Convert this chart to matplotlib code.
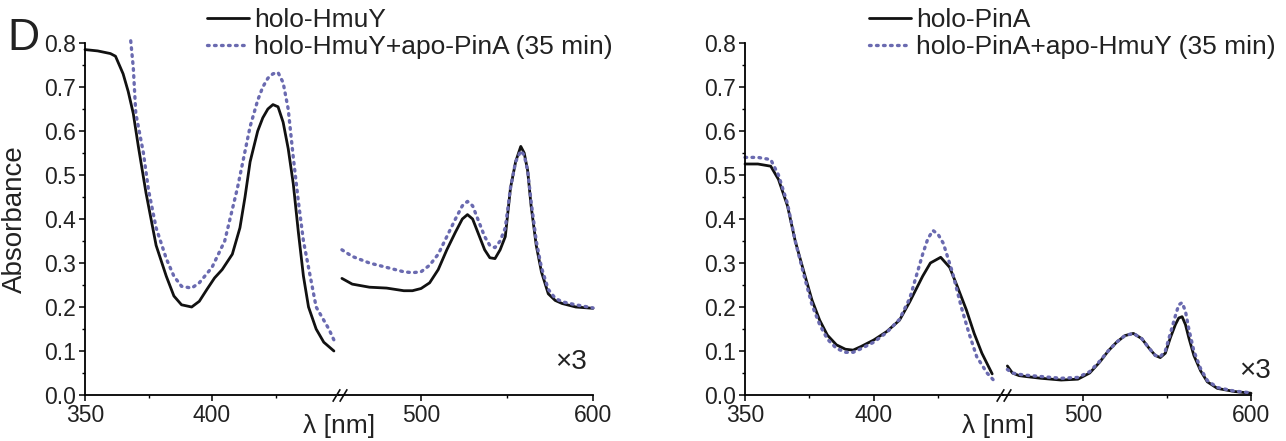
import matplotlib
matplotlib.use("Agg")
from matplotlib import pyplot as plt
from matplotlib.ticker import MultipleLocator
from matplotlib.lines import Line2D

plt.rcParams['font.family'] = ['Liberation Sans', 'DejaVu Sans']

# ---- data (right segments are the x3 display) ----
# left panel, holo-HmuY
wl_hmuy_a = [350, 355, 360, 362, 365, 367, 369, 371, 374, 376, 378, 382, 385, 388, 392, 395, 398, 401, 404, 408,
             411, 413, 415, 418, 420, 422, 424, 426, 428, 430, 432, 434, 436, 438, 441, 444, 446, 448]
hmuy_a = [0.785, 0.782, 0.776, 0.77, 0.73, 0.69, 0.64, 0.565, 0.46, 0.40, 0.34, 0.27, 0.225, 0.205, 0.20, 0.213,
          0.24, 0.266, 0.285, 0.32, 0.38, 0.45, 0.53, 0.60, 0.63, 0.65, 0.66, 0.655, 0.62, 0.56, 0.48, 0.37, 0.27,
          0.20, 0.15, 0.12, 0.11, 0.10]
wl_mix1_a = [368, 369, 370, 373, 375, 378, 382, 385, 388, 392, 395, 400, 405, 410, 415, 418, 420, 422, 424, 426,
             428, 430, 432, 434, 436, 438, 441, 444, 446, 448]
mix1_a = [0.805, 0.745, 0.64, 0.55, 0.466, 0.38, 0.31, 0.27, 0.247, 0.243, 0.255, 0.29, 0.35, 0.47, 0.61, 0.67,
          0.70, 0.72, 0.73, 0.733, 0.71, 0.65, 0.54, 0.44, 0.35, 0.29, 0.20, 0.17, 0.15, 0.125]
wl_hmuy_b = [454, 460, 470, 480, 490, 495, 500, 505, 510, 515, 520, 524, 527, 530, 533, 537, 540, 543, 546, 549,
             552, 555, 558, 560, 562, 564, 567, 570, 574, 578, 582, 590, 600]
hmuy_b = [0.265, 0.252, 0.245, 0.243, 0.237, 0.237, 0.242, 0.255, 0.285, 0.33, 0.37, 0.40, 0.41, 0.40, 0.37, 0.33,
          0.312, 0.31, 0.33, 0.36, 0.47, 0.53, 0.565, 0.55, 0.51, 0.43, 0.34, 0.28, 0.23, 0.215, 0.208, 0.20, 0.197]
mix1_b = [0.33, 0.315, 0.30, 0.29, 0.28, 0.278, 0.28, 0.295, 0.32, 0.36, 0.40, 0.43, 0.44, 0.43, 0.40, 0.36,
          0.34, 0.335, 0.35, 0.38, 0.47, 0.53, 0.555, 0.545, 0.51, 0.44, 0.35, 0.29, 0.24, 0.22, 0.212, 0.205, 0.198]

# right panel, holo-PinA
wl_pina_a = [350, 355, 360, 363, 366.5, 369.5, 373, 376, 379, 382, 385.5, 389, 392, 395, 400, 405, 410, 414, 419,
             422, 426, 429.5, 432.5, 436, 439, 442, 446]
pina_a = [0.525, 0.525, 0.52, 0.49, 0.43, 0.35, 0.277, 0.216, 0.17, 0.136, 0.114, 0.104, 0.102, 0.11, 0.125, 0.144,
          0.17, 0.212, 0.27, 0.30, 0.313, 0.29, 0.246, 0.193, 0.14, 0.095, 0.048]
wl_mix2_a = [350, 355, 360, 363, 366.5, 369.5, 373, 376, 379, 382, 385.5, 389, 392, 395, 400, 405, 410, 414, 417,
             419, 421, 423, 425, 427, 430.5, 434, 437, 440, 444, 446.5]
mix2_a = [0.54, 0.54, 0.535, 0.50, 0.435, 0.35, 0.27, 0.205, 0.16, 0.127, 0.106, 0.097, 0.097, 0.105, 0.12, 0.142,
          0.172, 0.22, 0.28, 0.32, 0.355, 0.374, 0.365, 0.345, 0.28, 0.2, 0.14, 0.087, 0.05, 0.034]
wl_pina_b = [455, 458, 462, 466, 475, 487, 497, 504, 510, 515, 520, 525, 530, 535, 539, 543, 546, 549, 552, 555,
             557, 559, 561, 563, 566, 570, 574, 580, 590, 600]
pina_b = [0.066, 0.05, 0.044, 0.042, 0.038, 0.034, 0.036, 0.05, 0.075, 0.10, 0.12, 0.135, 0.14, 0.128, 0.108, 0.09,
          0.085, 0.095, 0.13, 0.16, 0.175, 0.178, 0.16, 0.13, 0.09, 0.055, 0.03, 0.015, 0.008, 0.004]
mix2_b = [0.058, 0.05, 0.047, 0.045, 0.042, 0.038, 0.04, 0.053, 0.077, 0.10, 0.12, 0.135, 0.14, 0.128, 0.108, 0.09,
          0.087, 0.10, 0.14, 0.18, 0.205, 0.21, 0.19, 0.15, 0.10, 0.06, 0.033, 0.017, 0.009, 0.005]

labels_left = ['holo-HmuY', 'holo-HmuY+apo-PinA (35 min)']
labels_right = ['holo-PinA', 'holo-PinA+apo-HmuY (35 min)']

W, H = 1286, 441
BLACK = '#111111'
DOT = '#6a6ab0'
TXT = '#222222'
fig = plt.figure(figsize=(W / 100, H / 100), dpi=100)


def px_axes(x0, x1, y0=395, y1=43):
    return fig.add_axes([x0 / W, (H - y0) / H, (x1 - x0) / W, (y0 - y1) / H])


def style(ax, left):
    for s in ['top', 'right']:
        ax.spines[s].set_visible(False)
    ax.spines['bottom'].set_linewidth(1.3)
    ax.spines['left'].set_linewidth(1.3)
    ax.set_ylim(0, 0.8)
    ax.set_facecolor('none')
    ax.tick_params(which='major', direction='out', length=4.5, width=1.1, labelsize=16.5, pad=2,
                   labelcolor=TXT)
    ax.tick_params(which='minor', direction='out', length=2.5, width=1.0)
    if left:
        ax.yaxis.set_major_locator(MultipleLocator(0.1))
        ax.yaxis.set_minor_locator(MultipleLocator(0.05))
        ax.yaxis.set_major_formatter(matplotlib.ticker.FormatStrFormatter('%.1f'))
    else:
        ax.spines['left'].set_visible(False)
        ax.tick_params(axis='y', which='both', left=False, labelleft=False)


def panel(xa0, xbreak, xb1, xlim_a, xlim_b, wa, ya, wa2, ya2, wb, yb, yb2, labels, leg_x, times_xy):
    axa = px_axes(xa0, xbreak)
    axb = px_axes(xbreak, xb1)
    style(axa, True)
    style(axb, False)
    axa.set_xlim(*xlim_a)
    axb.set_xlim(*xlim_b)
    axa.set_xticks([350, 400])
    axa.xaxis.set_minor_locator(matplotlib.ticker.FixedLocator([375, 425]))
    axb.set_xticks([500, 600])
    axb.xaxis.set_minor_locator(matplotlib.ticker.FixedLocator([550]))
    kw_s = dict(color=BLACK, lw=2.0, solid_capstyle='round', solid_joinstyle='round', clip_on=False)
    kw_d = dict(color=DOT, lw=2.4, linestyle=(0, (0.5, 1.6)), dash_capstyle='round', clip_on=False)
    axa.plot(wa, ya, **kw_s)
    axa.plot(wa2, ya2, **kw_d)
    axb.plot(wb, yb, **kw_s)
    axb.plot(wb, yb2, **kw_d)
    # break marks
    for dx in (-3.5, 3.5):
        axb.plot([dx / (xb1 - xbreak)], [0], transform=axb.transAxes, marker=[(-0.6, -1), (0.6, 1)],
                 markersize=9, color=BLACK, mew=1.2, linestyle='none', clip_on=False)
    handles = [Line2D([], [], **{k: v for k, v in kw_s.items() if k != 'clip_on'}),
               Line2D([], [], **{k: v for k, v in kw_d.items() if k != 'clip_on'})]
    leg = fig.legend(handles, labels, loc='upper left', bbox_to_anchor=(leg_x / W, 1 - 8 / H),
                     frameon=False, fontsize=19, handlelength=1.6, handletextpad=0.2, labelspacing=0.12,
                     borderpad=0, borderaxespad=0)
    for t in leg.get_texts():
        t.set_color(TXT)
    fig.text((xa0 + xb1) / 2 / W, 1 - 426 / H, 'λ [nm]', fontsize=19, ha='center', va='center', color=TXT)
    fig.text(times_xy[0] / W, 1 - times_xy[1] / H, '×3', fontsize=20, ha='center', va='center', color=TXT)
    return axa, axb


panel(85, 339, 593, (350, 450), (452.3, 600), wl_hmuy_a, hmuy_a, wl_mix1_a, mix1_a,
      wl_hmuy_b, hmuy_b, mix1_b, labels_left, 207, (571, 362))
panel(745, 1003, 1251, (350, 450.2), (452.4, 600), wl_pina_a, pina_a, wl_mix2_a, mix2_a,
      wl_pina_b, pina_b, mix2_b, labels_right, 869, (1255, 371))

fig.text(15 / W, 1 - 219 / H, 'Absorbance', fontsize=20, rotation=90, ha='center', va='center', color=TXT)
fig.text(23 / W, 1 - 38 / H, 'D', fontsize=32, ha='center', va='center', color=TXT)

fig.savefig('out.png', dpi=100)
